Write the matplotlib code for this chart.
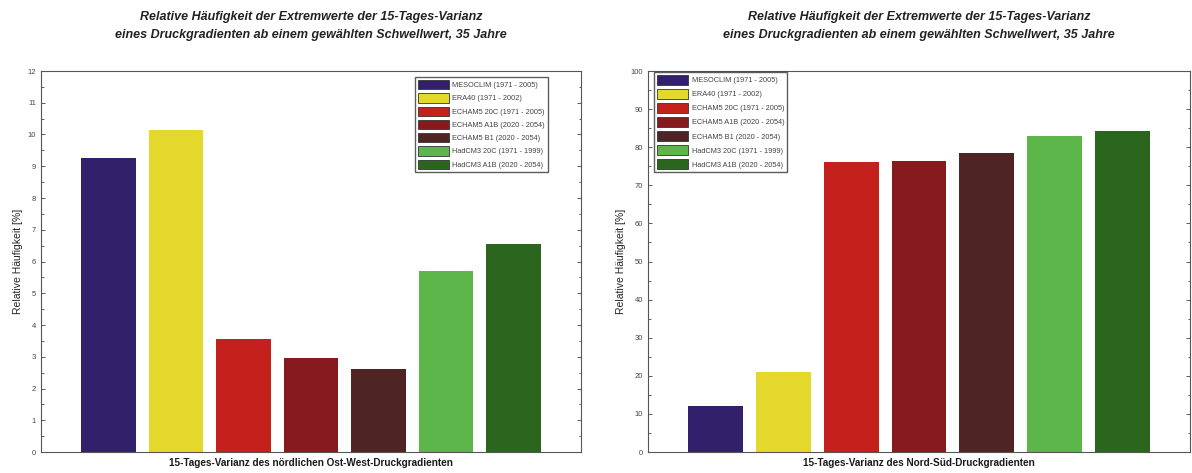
import matplotlib
matplotlib.use("Agg")
import matplotlib.pyplot as plt
from matplotlib.patches import Patch
from matplotlib.ticker import MultipleLocator

plt.rcParams['font.family'] = ['Liberation Sans', 'DejaVu Sans']

series = [
    "MESOCLIM (1971 - 2005)",
    "ERA40 (1971 - 2002)",
    "ECHAM5 20C (1971 - 2005)",
    "ECHAM5 A1B (2020 - 2054)",
    "ECHAM5 B1 (2020 - 2054)",
    "HadCM3 20C (1971 - 1999)",
    "HadCM3 A1B (2020 - 2054)",
]
colors = ["#33206c", "#e4d82c", "#c4201c", "#871a1c", "#4f2424", "#5db64a", "#2a661e"]

ost_west = [9.25, 10.15, 3.55, 2.95, 2.6, 5.7, 6.55]
nord_sued = [12.0, 21.0, 76.0, 76.5, 78.5, 83.0, 84.2]

title = ("Relative Häufigkeit der Extremwerte der 15-Tages-Varianz\n"
         "eines Druckgradienten ab einem gewählten Schwellwert, 35 Jahre")
ylabel = "Relative Häufigkeit [%]"
xlabel_left = "15-Tages-Varianz des nördlichen Ost-West-Druckgradienten"
xlabel_right = "15-Tages-Varianz des Nord-Süd-Druckgradienten"

fig = plt.figure(figsize=(11.92, 4.73), dpi=100)
ax1 = fig.add_axes([41 / 1192, 1 - 452 / 473, 540 / 1192, 381 / 473])
ax2 = fig.add_axes([648 / 1192, 1 - 452 / 473, 542 / 1192, 381 / 473])


def draw(ax, values, ymax, major, minor, xlabel, legend_loc, legend_anchor,
         spacing):
    xs = list(range(1, len(values) + 1))
    ax.bar(xs, values, width=0.81, color=colors, edgecolor="none")
    ax.set_xlim(0, len(values) + 1)
    ax.set_ylim(0, ymax)
    ax.yaxis.set_major_locator(MultipleLocator(major))
    ax.yaxis.set_minor_locator(MultipleLocator(minor))
    ax.set_xticks([])
    ax.tick_params(axis="y", which="both", direction="in", right=True,
                   labelsize=5.5, colors="#444444", length=3, width=0.6)
    ax.tick_params(axis="y", which="minor", length=1.8)
    for s in ax.spines.values():
        s.set_color("#555555")
        s.set_linewidth(0.8)
    ax.set_title(title, fontsize=9, fontweight="bold", fontstyle="italic",
                 color="#222222", pad=24, linespacing=1.6)
    ax.set_xlabel(xlabel, fontsize=7.2, fontweight="bold", color="#1a1a1a",
                  labelpad=4)
    ax.set_ylabel(ylabel, fontsize=7.5, color="#222222", labelpad=3)
    handles = [Patch(facecolor=c, edgecolor="#333333", linewidth=0.6, label=l)
               for c, l in zip(colors, series)]
    ax.legend(handles=handles, loc=legend_loc, bbox_to_anchor=legend_anchor,
              fontsize=5.3, frameon=True, fancybox=False, edgecolor="#333333",
              handlelength=4.2, handleheight=1.55, handletextpad=0.45,
              labelspacing=spacing, borderpad=0.45, borderaxespad=0.0,
              labelcolor="#444444")


draw(ax1, ost_west, 12, 1, 0.5, xlabel_left, "upper right", (0.939, 0.985),
     0.55)
draw(ax2, nord_sued, 100, 10, 5, xlabel_right, "upper left", (0.011, 0.997),
     0.65)

fig.savefig("out.png", dpi=100, facecolor="white")
